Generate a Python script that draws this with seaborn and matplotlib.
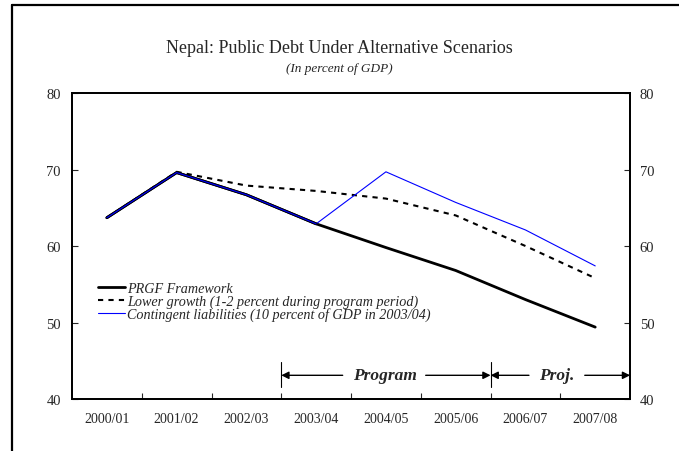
import pandas as pd
import matplotlib.pyplot as plt
import seaborn as sns
from matplotlib.lines import Line2D

# Fiscal years on the x-axis
years = ["2000/01", "2001/02", "2002/03", "2003/04", "2004/05", "2005/06", "2006/07", "2007/08"]

# Public debt, in percent of GDP
prgf = [63.7, 69.6, 66.7, 62.9, 59.8, 56.8, 53.0, 49.4]
lower_growth = [63.7, 69.7, 67.9, 67.2, 66.2, 64.0, 60.0, 55.8]
contingent = [63.7, 69.6, 66.7, 62.9, 69.7, 65.7, 62.1, 57.4]

labels = ["PRGF Framework",
          "Lower growth (1-2 percent during program period)",
          "Contingent liabilities (10 percent of GDP in 2003/04)"]

y_ticks = [40, 50, 60, 70, 80]

df = pd.DataFrame({"year": years, "prgf": prgf, "lower": lower_growth, "contingent": contingent})

sns.set_style("white")
plt.rcParams["font.family"] = ["Liberation Serif", "DejaVu Serif"]

fig = plt.figure(figsize=(6.79, 4.52), dpi=100)
ax = fig.add_axes([0.106, 0.115, 0.822, 0.677])

# The three scenarios
sns.lineplot(x="year", y="prgf", data=df, ax=ax, color="black", linewidth=2.0, sort=False)
sns.lineplot(x="year", y="lower", data=df, ax=ax, color="black", linewidth=1.5,
             linestyle=(0, (2.5, 2.5)), sort=False)
sns.lineplot(x="year", y="contingent", data=df, ax=ax, color="#0000FF", linewidth=0.8, sort=False)
# redraw the shared segment so it looks like the original
sns.lineplot(x="year", y="prgf", data=df.iloc[:4], ax=ax, color="black", linewidth=2.0, sort=False)
sns.lineplot(x="year", y="contingent", data=df.iloc[:4], ax=ax, color="#0000FF", linewidth=0.8, sort=False)

ax.set_xlim(-0.5, len(years) - 0.5)
ax.set_ylim(40, 80)
ax.set_xlabel("")
ax.set_ylabel("")

# y-axis on both sides
ax.set_yticks(y_ticks)
ax.tick_params(axis="y", direction="in", length=4, width=0.8, labelsize=10.5, pad=8, left=True)
ax2 = ax.twinx()
ax2.set_ylim(40, 80)
ax2.set_yticks(y_ticks)
ax2.tick_params(axis="y", direction="in", length=4, width=0.8, labelsize=10.5, pad=7, right=True)

# x labels centered, tick marks between years
ax.set_xticks(range(len(years)))
ax.set_xticklabels(years)
ax.set_xticks([i + 0.5 for i in range(len(years) - 1)], minor=True)
ax.tick_params(axis="x", which="major", length=0, labelsize=10, pad=9)
ax.tick_params(axis="x", which="minor", direction="in", length=4, width=0.8, bottom=True)

for a in (ax, ax2):
    for side in a.spines.values():
        side.set_visible(True)
        side.set_color("black")
        side.set_linewidth(1.3)

# Legend
handles = [Line2D([], [], color="black", linewidth=2.0),
           Line2D([], [], color="black", linewidth=1.5, linestyle=(0, (2.5, 2.5))),
           Line2D([], [], color="#0000FF", linewidth=0.8)]
ax.legend(handles, labels, loc="upper left", bbox_to_anchor=(0.046, 0.382), frameon=False,
          prop={"style": "italic", "size": 10.2}, handlelength=1.95, handletextpad=0.1,
          labelspacing=-0.05, borderpad=0, borderaxespad=0)

# Program / projection markers
y_arrow = 43.1
for xv in (2.5, 5.5):
    ax.plot([xv, xv], [41.6, 44.8], color="black", linewidth=0.8)
arrow = dict(arrowstyle="-|>", color="black", linewidth=1.0, mutation_scale=11, shrinkA=0, shrinkB=0)
ax.annotate("", xy=(2.5, y_arrow), xytext=(3.38, y_arrow), arrowprops=arrow)
ax.annotate("", xy=(5.5, y_arrow), xytext=(4.57, y_arrow), arrowprops=arrow)
ax.text(3.98, y_arrow, "Program", ha="center", va="center", fontsize=12.5, fontweight="bold", fontstyle="italic")
ax.annotate("", xy=(5.5, y_arrow), xytext=(6.05, y_arrow), arrowprops=arrow)
ax.annotate("", xy=(7.5, y_arrow), xytext=(6.85, y_arrow), arrowprops=arrow)
ax.text(6.45, y_arrow, "Proj.", ha="center", va="center", fontsize=12.5, fontweight="bold", fontstyle="italic")

# Titles
fig.text(0.5, 0.893, "Nepal: Public Debt Under Alternative Scenarios", ha="center", va="center", fontsize=13)
fig.text(0.5, 0.848, "(In percent of GDP)", ha="center", va="center", fontsize=9.5, fontstyle="italic")

# Outer frame (top and left only, as in the original)
fig.add_artist(Line2D([12 / 679, 1.0], [1 - 6 / 452, 1 - 6 / 452], color="black", linewidth=1.6))
fig.add_artist(Line2D([12 / 679, 12 / 679], [0.0, 1 - 6 / 452], color="black", linewidth=1.6))

fig.savefig("out.png", dpi=100)
